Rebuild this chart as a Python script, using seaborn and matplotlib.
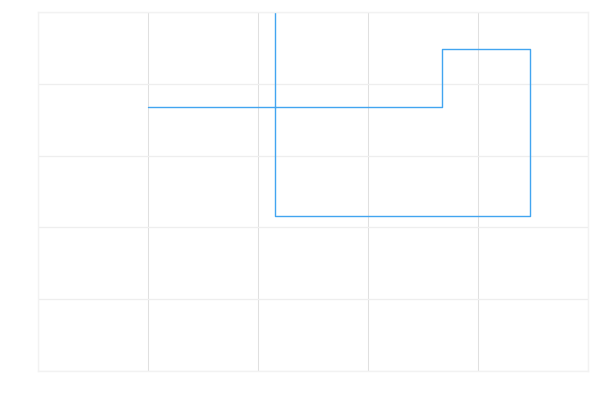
import pandas as pd
import matplotlib
matplotlib.use("Agg")
import matplotlib.pyplot as plt
import seaborn as sns

# Path of the walk (data coordinates)
path_x = [1.0, 3.673, 3.673, 4.473, 4.473, 2.155, 2.155]
path_y = [3.677, 3.677, 4.485, 4.485, 2.159, 2.159, 5.6]

x_ticks = [0, 1, 2, 3, 4, 5]
y_ticks = [0, 1, 2, 3, 4, 5]

df = pd.DataFrame({"x": path_x, "y": path_y})

sns.set_theme(style="white")

fig = plt.figure(figsize=(6, 4), dpi=100)
ax = fig.add_axes([38 / 600, 29 / 400, 550 / 600, 359 / 400])

sns.lineplot(data=df, x="x", y="y", sort=False, estimator=None,
             color="#42a5f0", linewidth=1.0, ax=ax)

ax.set_xlim(0, 5)
ax.set_ylim(0, 5)
ax.set_xticks(x_ticks)
ax.set_yticks(y_ticks)
ax.set_xticklabels([])
ax.set_yticklabels([])
ax.tick_params(length=0)
ax.set_xlabel("")
ax.set_ylabel("")

# grid: vertical lines a bit darker than horizontal ones
ax.xaxis.grid(True, color="#e0e0e0", linewidth=0.75)
ax.yaxis.grid(True, color="#eeeeee", linewidth=0.9)
ax.set_axisbelow(True)

for s in ax.spines.values():
    s.set_color("#f2f2f2")
    s.set_linewidth(1.0)

fig.savefig("out.png", dpi=100)
